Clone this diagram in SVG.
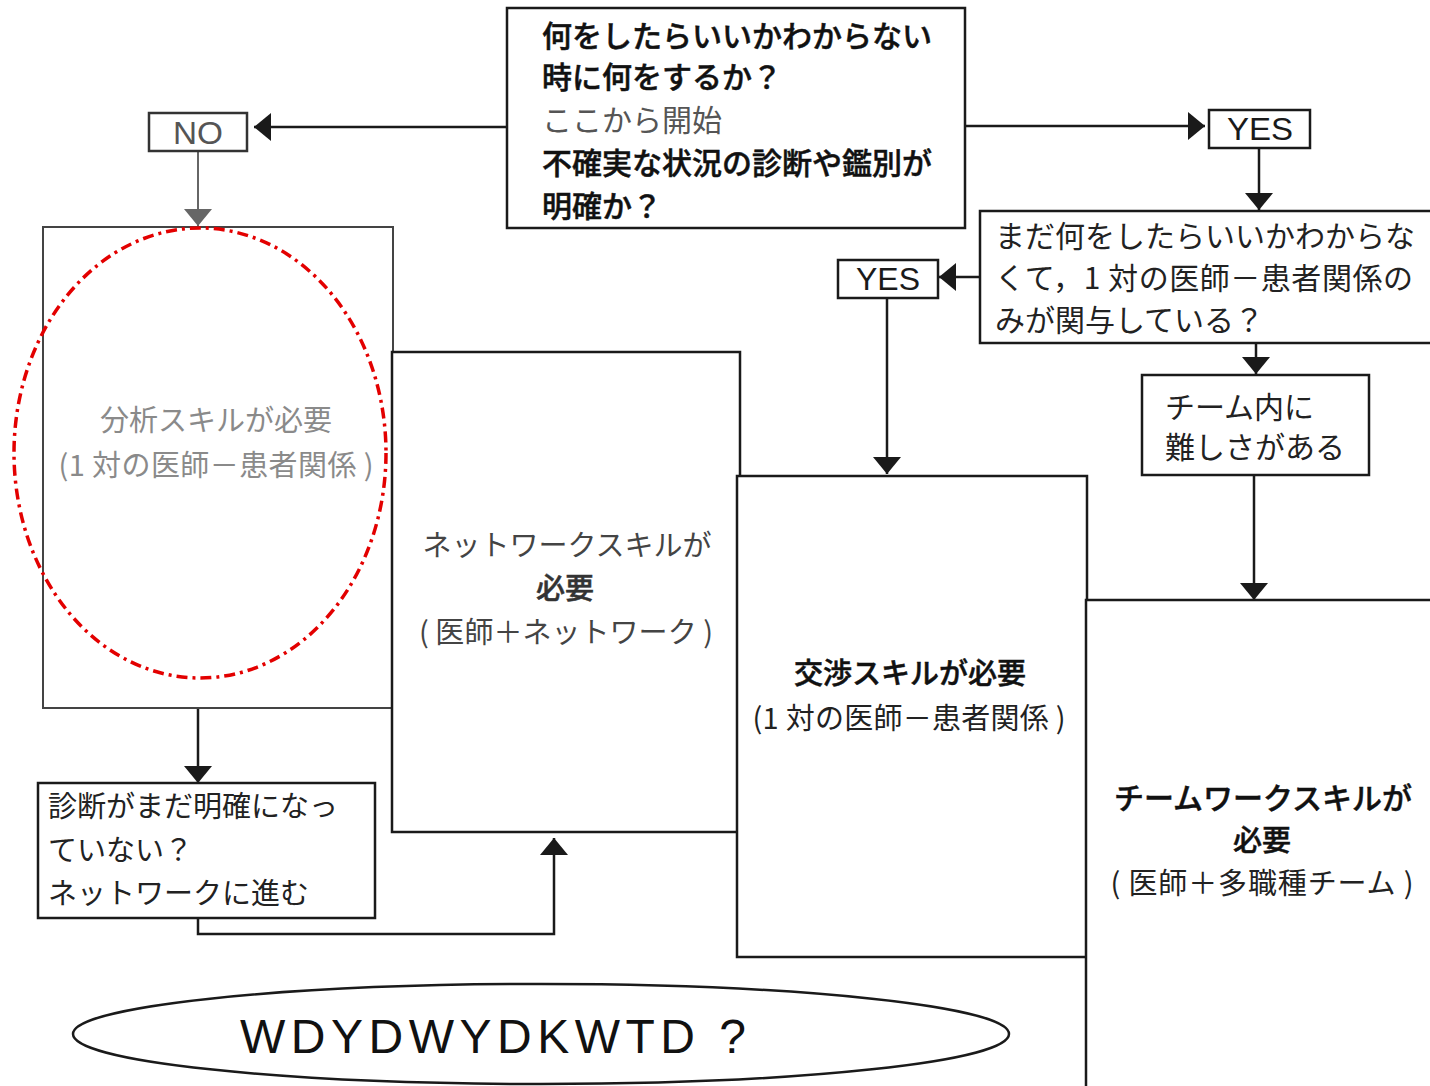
<svg xmlns="http://www.w3.org/2000/svg" width="1430" height="1086" viewBox="0 0 1430 1086">
<defs>
<style>
.box{fill:#fff;stroke:#1a1a1a;stroke-width:2.5}
.lbl{fill:#fff;stroke:#333;stroke-width:2.5}
.t{font-family:"Noto Sans CJK JP","Noto Sans CJK SC",sans-serif;font-size:30px;fill:#222}
.b{font-weight:500;fill:#111;stroke:#111;stroke-width:0.5}
.c{text-anchor:middle}
.en{font-family:"Liberation Sans",Arial,sans-serif;font-size:31px;fill:#1a1a1a;text-anchor:middle}
.cn{fill:none;stroke:#1a1a1a;stroke-width:2.5}
</style>
<marker id="ah" markerWidth="17" markerHeight="28" refX="17" refY="14" orient="auto" markerUnits="userSpaceOnUse"><path d="M0,0 L17,14 L0,28 z" fill="#1a1a1a"/></marker>
<marker id="ahg" markerWidth="17" markerHeight="28" refX="17" refY="14" orient="auto" markerUnits="userSpaceOnUse"><path d="M0,0 L17,14 L0,28 z" fill="#666"/></marker>
</defs>
<rect width="1430" height="1086" fill="#fff"/>

<g id="connectors">
<path class="cn" d="M507,127 H254" marker-end="url(#ah)"/>
<path class="cn" d="M198,152 V226" style="stroke:#666;stroke-width:2" marker-end="url(#ahg)"/>
<path class="cn" d="M965,126 H1205" marker-end="url(#ah)"/>
<path class="cn" d="M1259,148 V210" marker-end="url(#ah)"/>
<path class="cn" d="M980,277 H939" marker-end="url(#ah)"/>
<path class="cn" d="M887,298 V474" marker-end="url(#ah)"/>
<path class="cn" d="M1256,343 V374" marker-end="url(#ah)"/>
<path class="cn" d="M1254,475 V600" marker-end="url(#ah)"/>
<path class="cn" d="M198,708 V783" marker-end="url(#ah)"/>
<path class="cn" d="M198,918 V934 H554 V838" marker-end="url(#ah)"/>
</g>

<g id="start">
<rect class="box" x="507" y="8" width="458" height="220"/>
<text class="t b" x="542" y="47">何をしたらいいかわからない</text>
<text class="t b" x="542" y="88">時に何をするか？</text>
<text class="t" x="542" y="131" style="fill:#555">ここから開始</text>
<text class="t b" x="542" y="174">不確実な状況の診断や鑑別が</text>
<text class="t b" x="542" y="217">明確か？</text>
</g>

<g id="no">
<rect class="lbl" x="149" y="113" width="98" height="38"/>
<text class="en" x="198" y="144" style="fill:#555" textLength="50" lengthAdjust="spacingAndGlyphs">NO</text>
</g>

<g id="yes1">
<rect class="box" x="1209" y="110" width="101" height="38"/>
<text class="en" x="1260" y="140" textLength="66" lengthAdjust="spacingAndGlyphs">YES</text>
</g>

<g id="q2">
<rect class="box" x="980" y="211" width="470" height="132"/>
<text class="t" x="995" y="247">まだ何をしたらいいかわからな</text>
<text class="t" x="995" y="289" textLength="418" lengthAdjust="spacing">くて，1 対の医師－患者関係の</text>
<text class="t" x="995" y="331">みが関与している？</text>
</g>

<g id="yes2">
<rect class="box" x="838" y="260" width="100" height="38"/>
<text class="en" x="888" y="290" textLength="64" lengthAdjust="spacingAndGlyphs">YES</text>
</g>

<g id="teamdiff">
<rect class="box" x="1142" y="375" width="227" height="100"/>
<text class="t" x="1165" y="418">チーム内に</text>
<text class="t" x="1165" y="458">難しさがある</text>
</g>

<g id="analysis">
<rect class="box" x="43" y="227" width="350" height="481" style="stroke:#444;stroke-width:2"/>
<text class="t c" x="216" y="431" style="fill:#8a8a8a;font-size:29px">分析スキルが必要</text>
<text class="t c" x="216" y="476" style="fill:#8a8a8a;font-size:29px" textLength="315" lengthAdjust="spacing">(1 対の医師－患者関係 )</text>
</g>

<g id="network">
<rect class="box" x="392" y="352" width="348" height="480"/>
<text class="t c" x="567" y="556" style="fill:#444;font-size:29px">ネットワークスキルが</text>
<text class="t c b" x="565" y="599" style="font-size:29px;fill:#333;stroke:#333">必要</text>
<text class="t c" x="566" y="643" style="fill:#444;font-size:29px" textLength="294" lengthAdjust="spacing">( 医師＋ネットワーク )</text>
</g>

<g id="negotiation">
<rect class="box" x="737" y="476" width="350" height="481"/>
<text class="t c b" x="910" y="684" style="font-size:29px">交渉スキルが必要</text>
<text class="t c" x="909" y="729" style="font-size:29px" textLength="313" lengthAdjust="spacing">(1 対の医師－患者関係 )</text>
</g>

<g id="teamwork">
<rect class="box" x="1086" y="600" width="400" height="520"/>
<text class="t c b" x="1263" y="809">チームワークスキルが</text>
<text class="t c b" x="1262" y="851" style="font-size:29px">必要</text>
<text class="t c" x="1262" y="894" style="font-size:29px" textLength="303" lengthAdjust="spacing">( 医師＋多職種チーム )</text>
</g>

<g id="undiagnosed">
<rect class="box" x="38" y="783" width="337" height="135"/>
<text class="t" x="48" y="817" style="font-size:29px">診断がまだ明確になっ</text>
<text class="t" x="48" y="861" style="font-size:29px">ていない？</text>
<text class="t" x="48" y="904" style="font-size:29px">ネットワークに進む</text>
</g>

<g id="wdydwydkwtd">
<ellipse cx="541" cy="1034" rx="468" ry="50" fill="#fff" stroke="#1a1a1a" stroke-width="2.5"/>
<text x="240" y="1053" style="font-family:'Liberation Sans',Arial,sans-serif;font-size:48px;fill:#111;letter-spacing:5.5px">WDYDWYDKWTD ?</text>
</g>

<g id="highlight">
<ellipse cx="200" cy="453" rx="186" ry="225" fill="none" stroke="#e30000" stroke-width="3.5" stroke-dasharray="11,5,3,5"/>
</g>
</svg>
